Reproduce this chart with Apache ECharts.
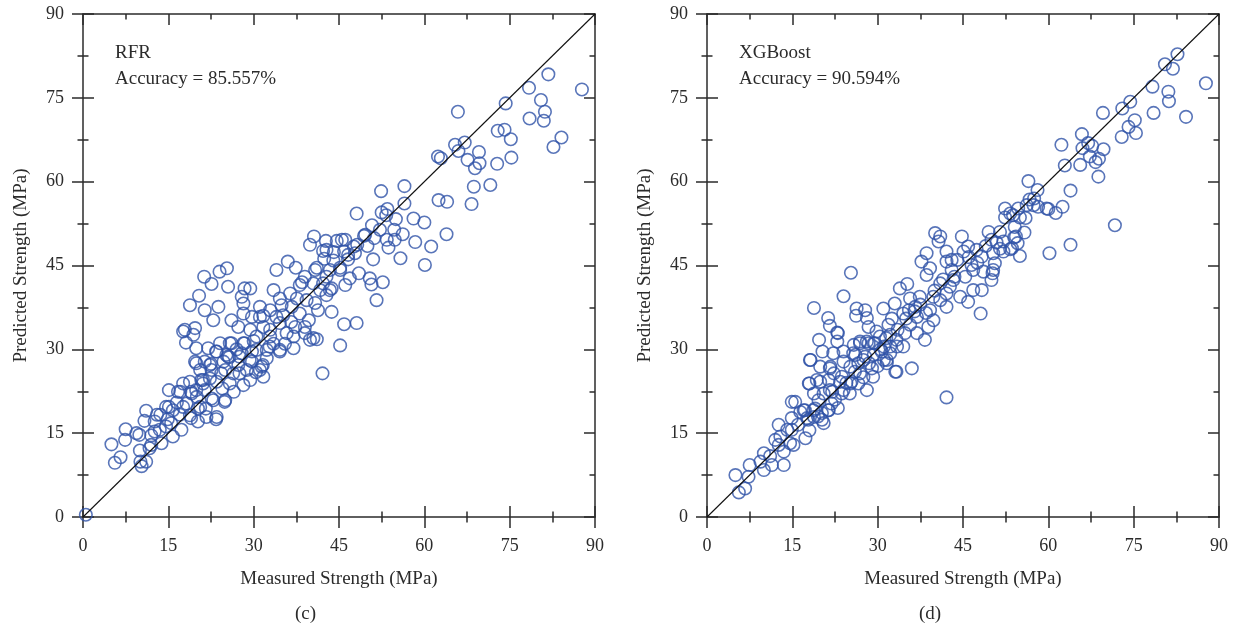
<!DOCTYPE html>
<html>
<head>
<meta charset="utf-8">
<title>Measured vs Predicted Strength</title>
<script src="https://cdn.jsdelivr.net/npm/echarts@6/dist/echarts.min.js"></script>
<style>
  html, body { margin: 0; padding: 0; background: #ffffff; }
  #chart { width: 1238px; height: 633px; }
</style>
</head>
<body>
<div id="chart"></div>
<script>
// Axis scale shared by both panels (MPa)
const tickValues = [0, 15, 30, 45, 60, 75, 90];

// Panel (c): Random Forest Regression
const rfrMeasured = [
  81.8, 87.7, 78.4, 80.5, 81.2, 81.0, 78.5, 84.1, 82.7, 74.3, 65.9, 72.9, 74.1, 75.2, 75.3, 72.8, 71.6, 68.7, 68.3, 69.6,
  69.7, 68.9, 67.6, 65.4, 67.1, 66.0, 62.4, 62.9, 62.5, 64.0, 63.9, 56.5, 56.5, 58.1, 60.0, 56.2, 58.4, 61.2, 60.1, 55.8,
  52.4, 48.1, 52.5, 53.5, 55.0, 52.2, 54.7, 49.4, 51.2, 53.4, 54.8, 47.6, 50.0, 53.7, 51.0, 40.6, 39.9, 42.7, 44.6, 45.5,
  47.8, 42.8, 45.9, 42.4, 44.0, 46.6, 48.5, 50.4, 52.7, 50.7, 51.6, 46.9, 46.1, 45.2, 43.4, 42.8, 40.8, 39.0, 36.0, 34.0,
  40.5, 42.2, 43.7, 41.7, 38.1, 36.4, 33.5, 34.6, 37.6, 39.3, 40.8, 42.8, 43.7, 45.9, 48.1, 45.2, 42.1, 41.1, 39.9, 39.0,
  37.0, 34.6, 35.8, 34.9, 36.7, 31.7, 32.9, 31.1, 28.4, 29.4, 27.9, 28.2, 25.5, 25.3, 24.0, 22.6, 21.3, 20.4, 18.8, 23.8,
  21.4, 22.9, 19.7, 17.9, 19.4, 18.1, 26.1, 27.3, 29.7, 31.1, 28.2, 29.4, 31.7, 34.0, 34.6, 38.1, 37.3, 39.0, 40.5, 37.0,
  32.9, 30.5, 28.2, 26.1, 24.1, 22.0, 23.5, 25.5, 27.9, 29.7, 32.3, 34.6, 19.7, 21.4, 24.7, 27.3, 29.7, 31.4, 32.3, 22.6,
  20.6, 25.0, 26.4, 28.8, 31.7, 31.1, 23.5, 21.1, 18.8, 25.8, 28.2, 29.4, 17.1, 19.1, 21.4, 25.0, 22.9, 18.2, 20.6, 23.5,
  21.7, 18.8, 0.5, 5.0, 5.6, 6.6, 7.4, 7.5, 9.4, 9.9, 10.0, 10.1, 10.3, 11.1, 11.1, 10.8, 12.0, 12.6, 13.0, 13.5,
  13.8, 14.9, 15.1, 15.1, 15.8, 16.7, 17.0, 17.3, 17.6, 19.0, 19.0, 20.2, 20.2, 20.8, 21.6, 22.3, 22.6, 23.4, 24.9, 19.9,
  22.3, 24.3, 27.5, 19.9, 17.6, 14.6, 15.8, 17.6, 23.4, 25.8, 28.4, 30.5, 32.8, 25.2, 27.5, 29.3, 31.6, 21.1, 14.6, 12.6,
  13.6, 11.7, 19.9, 22.5, 25.7, 26.5, 30.4, 32.9, 35.2, 36.6, 39.7, 41.3, 43.4, 45.2, 46.6, 48.2, 49.6, 38.5, 37.4, 41.1,
  42.2, 44.1, 46.1, 50.8, 53.3, 27.0, 24.5, 20.0, 16.5, 15.5, 12.0, 30.0, 33.5, 35.5
];
const rfrPredicted = [
  79.2, 76.5, 76.8, 74.6, 72.5, 70.9, 71.3, 67.9, 66.2, 74.0, 72.5, 69.1, 69.3, 67.6, 64.3, 63.2, 59.4, 59.1, 56.0, 65.3,
  63.3, 62.4, 63.9, 66.6, 67.0, 65.5, 64.5, 64.2, 56.7, 56.4, 50.6, 59.2, 56.1, 53.4, 52.7, 50.6, 49.2, 48.4, 45.1, 46.3,
  58.3, 54.3, 54.5, 55.1, 53.3, 51.4, 51.4, 50.3, 49.9, 49.6, 49.6, 48.4, 48.5, 48.2, 46.1, 50.2, 48.7, 49.4, 49.4, 49.6,
  47.2, 47.8, 47.5, 46.2, 45.9, 46.1, 43.6, 42.7, 42.0, 41.6, 38.8, 42.7, 41.5, 44.2, 44.2, 43.0, 44.2, 43.0, 45.7, 44.2,
  41.8, 41.8, 40.9, 40.6, 41.5, 40.0, 40.6, 39.1, 39.1, 38.8, 38.3, 39.7, 36.7, 34.5, 34.7, 30.7, 25.7, 31.8, 31.7, 32.9,
  30.2, 29.9, 32.9, 37.9, 37.6, 36.0, 37.0, 37.6, 40.9, 40.9, 39.4, 38.2, 41.2, 44.5, 43.9, 41.7, 43.0, 39.6, 37.9, 37.6,
  37.0, 35.2, 33.8, 33.5, 32.6, 31.2, 35.2, 34.0, 35.8, 35.8, 36.4, 33.5, 34.0, 35.8, 34.7, 36.4, 34.0, 34.0, 32.0, 32.3,
  32.3, 32.3, 31.1, 31.1, 31.1, 30.2, 29.6, 28.7, 29.3, 29.6, 29.9, 29.6, 27.8, 27.8, 27.8, 27.2, 27.8, 26.9, 28.4, 26.3,
  26.3, 26.3, 25.7, 26.3, 25.1, 26.3, 24.2, 24.5, 24.2, 23.9, 23.6, 24.5, 22.4, 22.1, 22.7, 20.9, 20.9, 20.3, 19.7, 17.9,
  17.9, 18.2, 0.4, 13.0, 9.7, 10.7, 13.8, 15.7, 15.0, 14.7, 11.9, 9.9, 9.1, 9.9, 19.0, 17.2, 12.9, 17.1, 18.3, 15.6,
  13.2, 17.5, 22.7, 19.7, 14.4, 22.4, 18.3, 15.6, 19.7, 22.4, 17.7, 19.4, 17.1, 24.5, 19.4, 24.8, 21.2, 17.5, 20.6, 27.5,
  27.2, 25.7, 25.7, 22.7, 23.9, 19.7, 19.1, 33.2, 29.6, 31.1, 31.1, 29.9, 30.5, 29.0, 28.7, 28.1, 27.2, 23.9, 16.2, 15.3,
  18.3, 12.3, 30.2, 27.4, 28.6, 22.4, 25.9, 33.5, 36.1, 34.9, 35.2, 37.0, 40.6, 44.6, 46.9, 48.7, 50.5, 42.0, 44.6, 44.6,
  47.6, 47.4, 49.6, 52.2, 54.0, 30.0, 23.0, 21.5, 20.5, 16.8, 14.6, 31.5, 31.0, 31.0
];

// Panel (d): XGBoost
const xgbMeasured = [
  82.7, 80.5, 81.9, 87.7, 78.3, 81.1, 81.2, 74.4, 73.0, 78.5, 84.2, 69.6, 75.2, 74.1, 75.4, 72.9, 65.9, 62.3, 67.0, 67.7,
  66.0, 69.7, 67.3, 68.9, 68.3, 65.6, 62.9, 68.8, 56.5, 58.1, 63.9, 56.7, 56.2, 58.2, 60.0, 61.3, 62.5, 54.7, 52.4, 53.3,
  52.4, 55.0, 51.5, 54.1, 55.8, 54.0, 50.9, 54.6, 52.1, 53.6, 55.0, 50.6, 50.2, 60.2, 63.9, 71.7, 25.3, 24.0, 18.8, 21.3,
  21.6, 22.9, 19.7, 18.1, 20.3, 22.2, 24.0, 19.9, 21.6, 24.0, 18.0, 19.9, 21.6, 23.7, 25.4, 19.6, 21.3, 17.2, 17.8, 20.2,
  26.3, 27.8, 26.2, 28.1, 31.0, 28.4, 29.8, 31.9, 26.9, 28.4, 29.5, 25.7, 27.8, 30.7, 32.2, 26.6, 29.0, 31.6, 33.3, 28.1,
  26.6, 29.2, 25.1, 23.7, 21.9, 18.7, 36.0, 42.1, 33.9, 35.2, 33.0, 35.7, 34.5, 36.6, 37.4, 37.7, 39.2, 38.6, 40.1, 41.0,
  40.7, 44.8, 42.1, 43.0, 45.1, 45.9, 47.4, 48.3, 50.0, 52.1, 53.8, 57.4, 59.7, 54.3, 53.3, 50.3, 50.3, 48.6, 46.8, 50.0,
  48.3, 46.8, 45.4, 43.3, 44.5, 45.9, 48.1, 42.1, 41.0, 42.1, 39.8, 39.2, 39.8, 38.3, 38.9, 36.9, 36.9, 35.7, 34.8, 33.3,
  34.5, 32.2, 30.4, 38.6, 42.1, 43.0, 41.0, 42.7, 46.5, 5.0, 5.6, 6.7, 7.3, 7.5, 9.4, 10.0, 11.1, 11.4, 13.5, 10.0,
  12.6, 12.0, 12.9, 13.5, 12.6, 14.1, 14.9, 14.6, 15.2, 14.9, 15.5, 14.9, 16.4, 17.0, 17.3, 17.6, 18.2, 17.9, 19.3, 18.8,
  19.0, 18.8, 20.2, 20.5, 21.4, 21.7, 21.4, 22.3, 22.0, 20.5, 22.9, 23.0, 25.2, 23.4, 25.2, 24.0, 25.8, 26.9, 28.1, 29.3,
  31.1, 26.1, 27.5, 29.3, 31.1, 32.2, 26.9, 33.1, 31.6, 33.4, 16.0, 18.0, 19.5, 22.5, 23.0, 24.5, 26.0, 27.5, 28.5, 30.0,
  30.5, 31.5, 33.5, 35.0, 36.5, 37.5, 38.5, 40.0, 41.5, 43.5, 44.0, 46.0, 47.5, 49.0, 51.5, 49.5, 56.0, 57.5, 35.5, 32.5
];
const xgbPredicted = [
  82.8, 81.0, 80.2, 77.6, 77.0, 76.1, 74.4, 74.3, 73.1, 72.3, 71.6, 72.3, 71.0, 69.8, 68.7, 68.0, 68.5, 66.6, 66.9, 66.4,
  66.0, 65.8, 64.5, 64.1, 63.5, 63.0, 62.9, 60.9, 60.1, 58.5, 58.4, 56.8, 55.8, 55.5, 55.1, 54.4, 55.5, 55.2, 55.2, 54.3,
  53.6, 53.6, 51.0, 51.9, 50.9, 50.0, 49.1, 49.0, 47.5, 48.1, 46.7, 45.4, 43.6, 47.2, 48.7, 52.2, 43.7, 39.5, 37.4, 35.6,
  34.2, 33.0, 31.7, 28.1, 29.6, 29.3, 29.6, 26.9, 26.6, 27.8, 23.9, 24.2, 22.7, 25.1, 24.2, 20.9, 19.1, 19.1, 17.4, 17.4,
  37.3, 37.0, 36.0, 35.6, 37.3, 34.0, 33.2, 34.4, 31.4, 31.1, 31.1, 29.3, 28.7, 29.6, 30.5, 27.5, 26.6, 28.1, 26.0, 22.7,
  23.9, 25.1, 22.1, 22.1, 20.3, 19.1, 26.6, 21.4, 40.9, 41.7, 38.2, 39.1, 36.4, 37.6, 39.4, 45.7, 44.5, 43.3, 50.8, 50.2,
  49.3, 50.2, 47.5, 46.0, 47.5, 48.4, 47.8, 46.6, 49.6, 49.3, 54.0, 55.8, 55.2, 50.2, 47.9, 47.2, 44.2, 43.9, 44.2, 42.4,
  40.6, 40.6, 43.0, 42.4, 39.4, 38.5, 36.4, 40.0, 38.8, 37.6, 39.4, 37.0, 35.2, 31.7, 34.0, 32.9, 35.8, 34.4, 32.9, 31.7,
  30.5, 32.6, 32.3, 47.2, 45.7, 44.2, 41.8, 41.2, 45.1, 7.5, 4.4, 5.1, 7.2, 9.3, 9.9, 8.4, 10.9, 9.3, 9.3, 11.4,
  12.9, 13.8, 14.4, 11.7, 16.5, 15.6, 15.6, 13.2, 12.9, 17.7, 20.6, 20.6, 18.8, 19.1, 14.1, 17.7, 28.1, 23.9, 24.5, 22.1,
  19.4, 17.9, 18.6, 16.8, 19.1, 26.9, 24.5, 25.7, 22.4, 22.1, 31.4, 32.9, 26.9, 24.2, 23.9, 22.7, 30.8, 31.1, 31.4, 31.1,
  30.5, 29.0, 28.1, 29.0, 28.1, 29.3, 25.7, 26.0, 27.5, 30.5, 16.5, 15.5, 18.0, 21.0, 19.5, 24.0, 26.0, 25.0, 27.5, 27.0,
  30.0, 32.0, 33.5, 35.5, 36.8, 38.0, 36.5, 40.5, 42.5, 43.0, 46.0, 46.5, 45.5, 48.5, 48.0, 51.0, 53.5, 57.0, 37.0, 35.5
];

const panels = [
  { model: 'RFR', accuracy: 'Accuracy = 85.557%', tag: '(c)', measured: rfrMeasured, predicted: rfrPredicted },
  { model: 'XGBoost', accuracy: 'Accuracy = 90.594%', tag: '(d)', measured: xgbMeasured, predicted: xgbPredicted }
];

const gridBoxes = [
  { left: 83, top: 14, width: 512, height: 503 },
  { left: 707, top: 14, width: 512, height: 503 }
];

const serif = '"Liberation Serif", "Times New Roman", serif';
const inkColor = '#2b2b2b';
const markerColor = '#2f52a8';
const axisLineStyle = { color: inkColor, width: 1.5 };

const axisMin = tickValues[0];
const axisMax = tickValues[tickValues.length - 1];
const axisStep = tickValues[1] - tickValues[0];

// Build the three axes of one direction for a panel: labelled outer axis,
// an overlaid one carrying inward ticks (so ticks cross the line), and the
// opposite frame edge with inward ticks.
function buildAxes(dim, gridIndex, title) {
  const base = {
    type: 'value', gridIndex: gridIndex, min: axisMin, max: axisMax, interval: axisStep,
    splitLine: { show: false }, minorSplitLine: { show: false },
    axisPointer: { show: false }, silent: true
  };
  const mainPos = dim === 'x' ? 'bottom' : 'left';
  const oppPos = dim === 'x' ? 'top' : 'right';
  const tick = (inside) => ({ show: true, inside: inside, length: 11, lineStyle: axisLineStyle });
  const minor = { show: true, splitNumber: 2, length: 5.5, lineStyle: axisLineStyle };
  return [
    Object.assign({}, base, {
      position: mainPos,
      axisLine: { show: true, onZero: false, lineStyle: axisLineStyle },
      axisTick: tick(false), minorTick: minor,
      axisLabel: { show: true, margin: dim === 'x' ? 20 : 19, color: inkColor, fontFamily: serif, fontSize: 18 },
      name: title, nameLocation: 'middle', nameGap: dim === 'x' ? 53 : 52,
      nameTextStyle: { color: inkColor, fontFamily: serif, fontSize: 19 }
    }),
    Object.assign({}, base, {
      position: mainPos,
      axisLine: { show: false, onZero: false },
      axisTick: tick(true), minorTick: minor,
      axisLabel: { show: false }
    }),
    Object.assign({}, base, {
      position: oppPos,
      axisLine: { show: true, onZero: false, lineStyle: axisLineStyle },
      axisTick: tick(true), minorTick: minor,
      axisLabel: { show: false }
    })
  ];
}

const xAxes = [];
const yAxes = [];
const series = [];
const graphics = [];

panels.forEach((p, i) => {
  const firstX = xAxes.length;
  const firstY = yAxes.length;
  xAxes.push(...buildAxes('x', i, 'Measured Strength (MPa)'));
  yAxes.push(...buildAxes('y', i, 'Predicted Strength (MPa)'));

  series.push({
    type: 'scatter', xAxisIndex: firstX, yAxisIndex: firstY,
    symbol: 'circle', symbolSize: 12.5, silent: true,
    itemStyle: { color: 'rgba(255,255,255,0)', borderColor: markerColor, borderWidth: 1.6 },
    data: p.measured.map((m, k) => [m, p.predicted[k]]),
    z: 2
  });
  // 1:1 reference line
  series.push({
    type: 'line', xAxisIndex: firstX, yAxisIndex: firstY,
    data: [[axisMin, axisMin], [axisMax, axisMax]],
    symbol: 'none', silent: true,
    lineStyle: { color: '#111111', width: 1.1 },
    z: 3
  });

  const g = gridBoxes[i];
  graphics.push({
    type: 'text', left: g.left + 32, top: 40,
    style: { text: p.model + '\n' + p.accuracy, fill: inkColor, font: '19px ' + serif, lineHeight: 26 }
  });
  graphics.push({
    type: 'text', left: g.left + 212, top: 605,
    style: { text: p.tag, fill: inkColor, font: '19px ' + serif }
  });
});

const chart = echarts.init(document.getElementById('chart'), null, { renderer: 'canvas' });
chart.setOption({
  animation: false,
  backgroundColor: '#ffffff',
  grid: gridBoxes.map(g => Object.assign({ containLabel: false, outerBoundsMode: 'none' }, g)),
  xAxis: xAxes,
  yAxis: yAxes,
  series: series,
  graphic: graphics
});
</script>
</body>
</html>
